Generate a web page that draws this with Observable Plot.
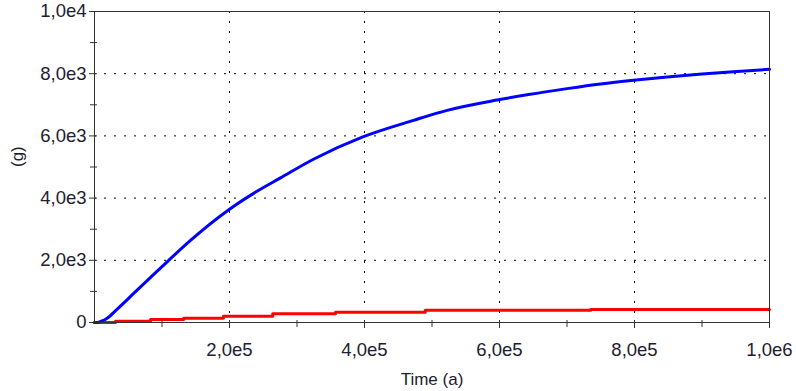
<!DOCTYPE html>
<html><head><meta charset="utf-8">
<script src="https://cdn.jsdelivr.net/npm/d3@7"></script>
<script src="https://cdn.jsdelivr.net/npm/@observablehq/plot@0.6"></script>
<style>body{margin:0;background:#fff}</style>
</head><body><div id="chart"></div>
<script>
const blueTime = [0, 4000, 10000, 18800, 33600, 60000, 92900, 110000, 142200, 198500, 240000, 275600, 324400, 396600, 472600, 522500, 598500, 643000, 700000, 749600, 798500, 848400, 900000, 946700, 1000000];
const blueValue = [0, 0, 40, 140, 430, 975, 1650, 2000, 2640, 3620, 4210, 4650, 5250, 5960, 6500, 6820, 7160, 7330, 7520, 7670, 7790, 7895, 7990, 8065, 8140];
const redTime = [0, 31000, 83000, 132000, 191000, 264000, 357000, 490000, 735000, 1000000];
const redValue = [0, 40, 100, 140, 200, 280, 330, 390, 420, 420];
const xMajor = [200000, 400000, 600000, 800000, 1000000];
const xMinor = [100000, 300000, 500000, 700000, 900000];
const yMajor = [0, 2000, 4000, 6000, 8000, 10000];
const yMinor = [1000, 3000, 5000, 7000, 9000];
const xGrid = [200000, 400000, 600000, 800000];
const yGrid = [2000, 4000, 6000, 8000];

const fmt = v => v === 0 ? "0" : d3.format(".1e")(v).replace(".", ",").replace("e+", "e");
const blue = blueTime.map((t, i) => ({t, v: blueValue[i]}));
const red = redTime.map((t, i) => ({t, v: redValue[i]}));

const chart = Plot.plot({
  width: 796, height: 391,
  marginLeft: 94, marginRight: 27, marginTop: 11, marginBottom: 69,
  style: {fontFamily: "Arial, 'Liberation Sans', sans-serif", fontSize: "18px", color: "#1e2030", background: "#fff"},
  x: {domain: [0, 1000000], axis: null, label: null},
  y: {domain: [0, 10000], axis: null, label: null},
  marks: [
    Plot.gridX(xGrid, {stroke: "#000", strokeOpacity: 1, strokeDasharray: "2,8"}),
    Plot.gridY(yGrid, {stroke: "#000", strokeOpacity: 1, strokeDasharray: "2,8"}),
    Plot.line(red, {x: "t", y: "v", stroke: "#ff0000", strokeWidth: 3, curve: "step-after"}),
    Plot.line(blue, {x: "t", y: "v", stroke: "#0000ff", strokeWidth: 3, curve: "monotone-x"}),
    Plot.frame({stroke: "#333"}),
    Plot.axisX(xMajor, {tickSize: 8, dy: -2, text: null, stroke: "#333", label: null}),
    Plot.axisX(xMinor, {tickSize: 7, dy: -2, text: null, stroke: "#333", label: null}),
    Plot.axisX(xMajor, {tickSize: 0, tickPadding: 20, tickFormat: fmt, label: null, fontSize: 18.5}),
    Plot.axisY(yMajor, {tickSize: 8, dx: 3, text: null, stroke: "#333", label: null}),
    Plot.axisY(yMinor, {tickSize: 7, dx: 3, text: null, stroke: "#333", label: null}),
    Plot.axisY(yMajor, {tickSize: 0, tickPadding: 8, tickFormat: fmt, label: null, fontSize: 18.5}),
    Plot.text(["Time (a)"], {frameAnchor: "bottom", dy: 62, fontSize: 17, fill: "#1e2030"}),
    Plot.text(["(g)"], {frameAnchor: "left", dx: -77, rotate: -90, fontSize: 17, fill: "#1e2030"})
  ]
});
document.getElementById("chart").append(chart);
</script>
</body></html>
